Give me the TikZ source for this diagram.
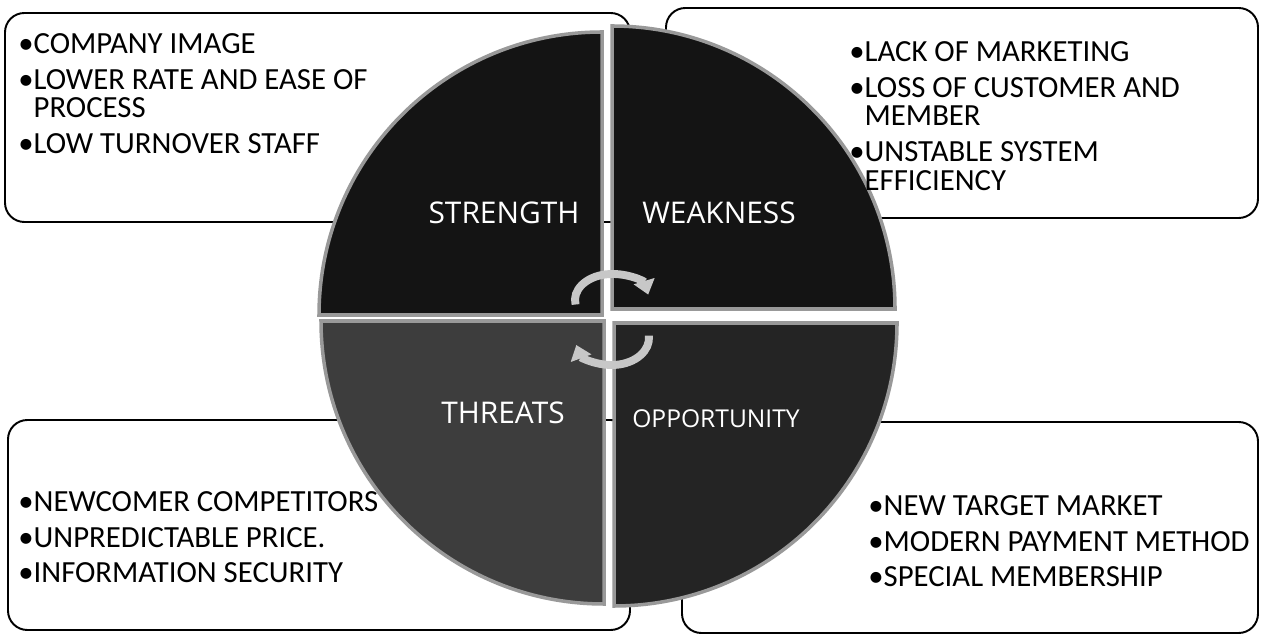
\documentclass[tikz,border=0pt]{standalone}
\usepackage{fontspec}
\setmainfont{Carlito}
\newfontfamily\titelfont{Open Sans}
\usetikzlibrary{arrows.meta}

\newcommand{\pkt}{\textbullet}
\newcommand{\einr}{\phantom{\textbullet}}

\begin{document}
\begin{tikzpicture}[x=0.02cm, y=0.02cm,
	kasten/.style={line width=1.1pt, draw=black, fill=white, rounded corners=11pt},
	viertel/.style={line width=2pt, draw=black!40},
	liste/.style={anchor=north west, align=left, inner sep=0pt,
		font=\fontsize{17.5}{16.4}\selectfont},
	titel/.style={text=white, inner sep=0pt, font=\titelfont\fontsize{17}{20}\selectfont},
	pfeil/.style={line width=4.5pt, draw=black!22, -{Triangle[length=8pt, width=12pt]}}]
	\useasboundingbox (0,0) rectangle (1264,639);

	% Kaesten
	\filldraw[kasten] (5,417) rectangle (630,626);
	\filldraw[kasten] (666,421) rectangle (1258,631);
	\filldraw[kasten] (8,9) rectangle (630,219);
	\filldraw[kasten] (682,6) rectangle (1258,217);

	% Kreis aus vier Vierteln
	\foreach \cx/\cy/\sa/\farbe in {602/324/90/black!92, 612/330/0/black!92,
		604/318/180/black!76, 614/316/270/black!86}
		\filldraw[viertel, fill=\farbe] (\cx,\cy) -- ++(\sa:283)
			arc[start angle=\sa, delta angle=90, radius=283] -- cycle;

	% Pfeile in der Mitte
	\coordinate (mitteoben) at (612,339);
	\coordinate (mitteunten) at (612,301);
	\draw[pfeil] (mitteoben) ++(190:37 and 26)
		arc[start angle=190, end angle=12, x radius=37, y radius=26];
	\draw[pfeil] (mitteunten) ++(5:37 and 27)
		arc[start angle=5, end angle=-165, x radius=37, y radius=27];

	% Titel der Viertel
	\node[titel] (staerke) at (504,426) {STRENGTH};
	\node[titel] (schwaeche) at (719,426) {WEAKNESS};
	\node[titel] (risiken) at (503,226) {THREATS};
	\node[titel, font=\titelfont\fontsize{14}{17}\selectfont] (chancen) at (716,220) {OPPORTUNITY};

	% Listen
	\node[liste] (staerkeliste) at (18,606) {\pkt COMPANY IMAGE\\[4pt]
		\pkt LOWER RATE AND EASE OF\\ \einr PROCESS\\[4pt]
		\pkt LOW TURNOVER STAFF};
	\node[liste] (schwaecheliste) at (849,598) {\pkt LACK OF MARKETING\\[4pt]
		\pkt LOSS OF CUSTOMER AND\\ \einr MEMBER\\[4pt]
		\pkt UNSTABLE SYSTEM\\ \einr EFFICIENCY};
	\node[liste] (risikenliste) at (18,148) {\pkt NEWCOMER COMPETITORS\\[4pt]
		\pkt UNPREDICTABLE PRICE.\\[4pt]
		\pkt INFORMATION SECURITY};
	\node[liste] (chancenliste) at (868,144) {\pkt NEW TARGET MARKET\\[4pt]
		\pkt MODERN PAYMENT METHOD\\[4pt]
		\pkt SPECIAL MEMBERSHIP};
\end{tikzpicture}
\end{document}
